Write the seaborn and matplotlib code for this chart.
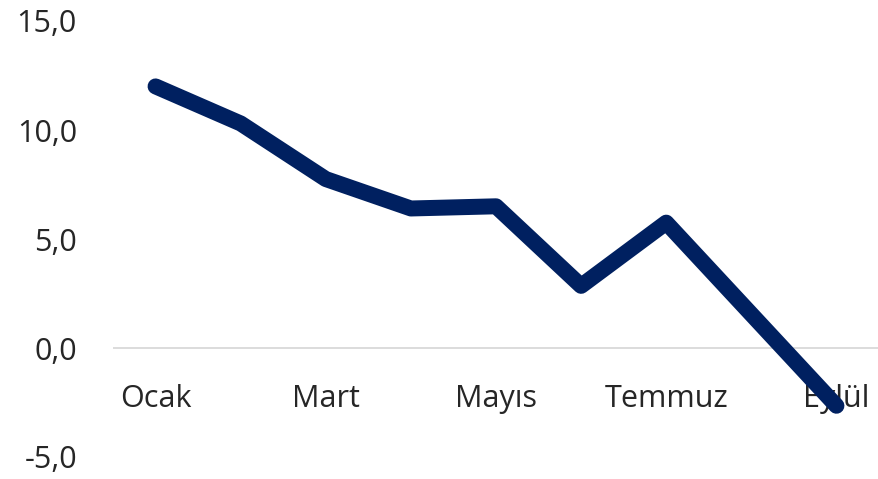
import matplotlib
matplotlib.use("Agg")
import matplotlib.pyplot as plt
import seaborn as sns
import pandas as pd

months = ["Ocak", "Şubat", "Mart", "Nisan", "Mayıs", "Haziran", "Temmuz", "Ağustos", "Eylül"]
values = [12.0, 10.3, 7.75, 6.4, 6.5, 2.85, 5.75, 1.55, -2.65]
y_ticks = [-5, 0, 5, 10, 15]

df = pd.DataFrame({"pos": list(range(len(months))), "month": months, "value": values})

sns.set_theme(style="white")
plt.rcParams["font.family"] = ["Open Sans", "DejaVu Sans"]

fig = plt.figure(figsize=(8.79, 4.79), dpi=100)
ax = fig.add_axes([113 / 879, 1 - 457 / 479, (879 - 113) / 879, (457 - 21) / 479])

ax.axhline(0, color="#d9d9d9", lw=1.3, zorder=1)
sns.lineplot(data=df, x="pos", y="value", ax=ax, color="#002060", lw=11.5,
             solid_capstyle="round", solid_joinstyle="round", sort=False, zorder=3)

ax.set_xlim(-0.5, len(months) - 0.5)
ax.set_ylim(-5, 15)
ax.set_yticks(y_ticks)
ax.set_yticklabels([f"{v:.1f}".replace(".", ",") for v in y_ticks])
ax.set_xticks(df["pos"])
ax.set_xticklabels([m if i % 2 == 0 else "" for i, m in enumerate(months)])

ax.spines["bottom"].set_position(("data", 0))
for s in ax.spines.values():
    s.set_visible(False)
ax.tick_params(axis="x", length=0, pad=26, labelsize=22, labelcolor="#262626")
ax.tick_params(axis="y", length=0, pad=26, labelsize=22, labelcolor="#262626")
for lab in ax.get_xticklabels():
    lab.set_zorder(2)
ax.set_xlabel("")
ax.set_ylabel("")
ax.grid(False)

fig.savefig("out.png", dpi=100)
